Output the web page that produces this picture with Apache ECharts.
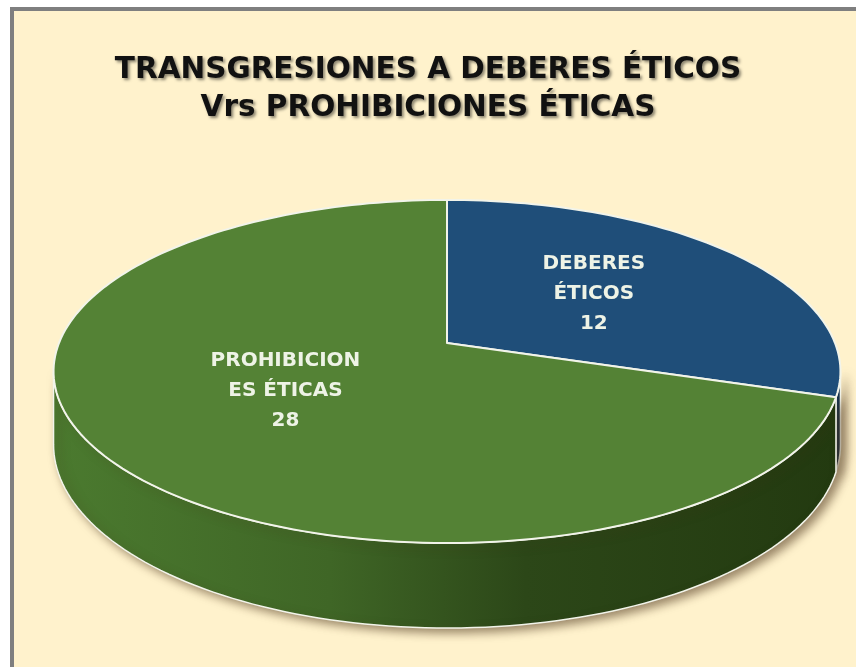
<!DOCTYPE html>
<html>
<head>
<meta charset="utf-8">
<script src="https://cdn.jsdelivr.net/npm/echarts@6/dist/echarts.min.js"></script>
<style>
  html, body { margin: 0; padding: 0; background: #fff; }
  #chart { width: 856px; height: 667px; }
</style>
</head>
<body>
<div id="chart"></div>
<script>
// datos del gráfico
const categories = ['DEBERES ÉTICOS', 'PROHIBICIONES ÉTICAS']
const values = [12, 28]
const labelLines = ['DEBERES\nÉTICOS', 'PROHIBICION\nES ÉTICAS']
const titleLines = ['TRANSGRESIONES A DEBERES ÉTICOS', 'Vrs PROHIBICIONES ÉTICAS']

const topColors = ['#1f4e79', '#548235']
const wallColors = ['#143352', null]

const chart = echarts.init(document.getElementById('chart'))

// proyección en perspectiva del disco (ángulo en grados, horario desde las 12)
const P = { cx: 447, cy: 343, F: 388, Fs: 166.8, c: 0.166, H: 70.9 }
const proj = (r, deg) => {
  const a = deg * Math.PI / 180
  const X = r * Math.sin(a)
  const Y = r * Math.cos(a)
  const w = 1 + P.c * Y
  return { x: P.cx + P.F * X / w, y: P.cy - P.Fs * Y / w, drop: P.H / w }
}

const total = values.reduce((s, v) => s + v, 0)
const startAngles = []
values.reduce((acc, v, i) => { startAngles[i] = acc; return acc + v / total * 360 }, 0)

const visL = Math.acos(-P.c) * 180 / Math.PI  // ~99.6
const visR = 360 - visL

const arcPoints = (a0, a1) => {
  const pts = []
  const n = Math.max(2, Math.ceil((a1 - a0) / 1.5))
  for (let k = 0; k <= n; k++) pts.push(proj(1, a0 + (a1 - a0) * k / n))
  return pts
}

const greenWall = new echarts.graphic.LinearGradient(55, 0, 840, 0, [
  { offset: 0, color: '#4b7a2f' },
  { offset: 0.35, color: '#3f6626' },
  { offset: 0.6, color: '#2c4718' },
  { offset: 1, color: '#233a10' }
], true)

const renderWall = (params, api) => {
  const i = params.dataIndex
  const a0 = startAngles[i]
  const a1 = a0 + api.value(0) / total * 360
  const s = Math.max(a0, visL)
  const e = Math.min(a1, visR)
  if (e <= s) return null
  const top = arcPoints(s, e)
  const pts = top.map(p => [p.x, p.y])
  for (let k = top.length - 1; k >= 0; k--) pts.push([top[k].x, top[k].y + top[k].drop])
  return {
    type: 'polygon',
    shape: { points: pts },
    style: {
      fill: wallColors[i] || greenWall,
      stroke: '#f2f4ea',
      lineWidth: 1.5,
      shadowBlur: 10,
      shadowOffsetX: 5,
      shadowOffsetY: 4,
      shadowColor: 'rgba(70,45,20,0.55)'
    }
  }
}

const renderTop = (params, api) => {
  const i = params.dataIndex
  const a0 = startAngles[i]
  const a1 = a0 + api.value(0) / total * 360
  const c = proj(0, 0)
  const pts = [[c.x, c.y]].concat(arcPoints(a0, a1).map(p => [p.x, p.y]))
  const lp = proj(0.49, (a0 + a1) / 2)
  return {
    type: 'group',
    children: [
      {
        type: 'polygon',
        shape: { points: pts },
        style: { fill: topColors[i], stroke: '#f2f4ea', lineWidth: 2, lineJoin: 'round' }
      },
      {
        type: 'text',
        x: lp.x,
        y: lp.y - 3,
        style: {
          text: labelLines[i] + '\n' + api.value(0),
          fill: '#eef3e6',
          font: 'bold 20px "DejaVu Sans"',
          align: 'center',
          verticalAlign: 'middle',
          lineHeight: 30
        }
      }
    ]
  }
}

const seriesData = values.map((v, i) => ({ name: categories[i], value: v }))

chart.setOption({
  backgroundColor: '#fff2cc',
  title: {
    text: titleLines.join('\n'),
    left: 423,
    top: 46,
    textAlign: 'center',
    textStyle: {
      fontFamily: 'DejaVu Sans',
      fontWeight: 'bold',
      fontSize: 29.5,
      lineHeight: 38,
      color: '#111',
      textShadowColor: 'rgba(0,0,0,0.45)',
      textShadowBlur: 3,
      textShadowOffsetX: 2,
      textShadowOffsetY: 2
    }
  },
  graphic: [
    { type: 'rect', shape: { x: 0, y: 0, width: 856, height: 7 }, style: { fill: '#fff' }, z: 100 },
    { type: 'rect', shape: { x: 0, y: 0, width: 10, height: 667 }, style: { fill: '#fff' }, z: 100 },
    { type: 'rect', shape: { x: 10, y: 7, width: 846, height: 4 }, style: { fill: '#7f7f7f' }, z: 100 },
    { type: 'rect', shape: { x: 10, y: 7, width: 4, height: 660 }, style: { fill: '#7f7f7f' }, z: 100 }
  ],
  series: [
    { type: 'custom', coordinateSystem: 'none', z: 1, data: seriesData, renderItem: renderWall },
    { type: 'custom', coordinateSystem: 'none', z: 2, data: seriesData, renderItem: renderTop }
  ]
})
</script>
</body>
</html>
